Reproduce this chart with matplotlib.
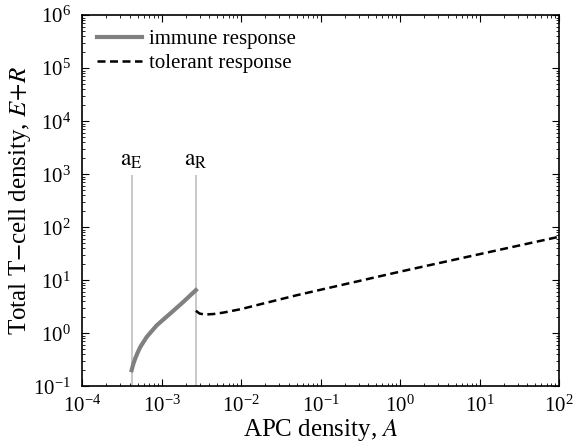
import matplotlib
matplotlib.use("Agg")
import matplotlib.pyplot as plt

plt.rcParams['font.family'] = ['Liberation Serif', 'DejaVu Serif']
plt.rcParams['mathtext.fontset'] = 'stix'

# thresholds
a_E = 4.2e-4
a_R = 2.7e-3

# immune response branch
immune_A = [4.2e-4, 4.4e-4, 4.65e-4, 5.0e-4, 5.4e-4, 6.5e-4, 8.7e-4, 1.28e-3, 1.88e-3, 2.7e-3]
immune_T = [0.20, 0.26, 0.33, 0.43, 0.55, 0.85, 1.41, 2.34, 3.9, 6.5]

# tolerant response branch
tol_A = [2.7e-3, 3.0e-3, 3.5e-3, 4.5e-3, 6e-3, 1e-2, 2e-2, 5e-2, 1e-1, 1e0, 1e1, 1e2]
tol_T = [2.65, 2.35, 2.25, 2.3, 2.45, 2.85, 3.7, 5.2, 6.6, 14.5, 31, 66]

fig = plt.figure(figsize=(5.74, 4.47), dpi=100)
ax = fig.add_axes([0.143, 0.136, 0.831, 0.830])

ax.plot([a_E, a_E], [0.1, 930], color='#c8c8c8', lw=1.4, zorder=1)
ax.plot([a_R, a_R], [0.1, 930], color='#c8c8c8', lw=1.4, zorder=1)
ax.text(a_E, 1150, r'$\mathrm{a_E}$', ha='center', va='bottom', fontsize=17)
ax.text(a_R, 1150, r'$\mathrm{a_R}$', ha='center', va='bottom', fontsize=17)

ax.plot(immune_A, immune_T, color='#808080', lw=3, label='immune response', zorder=3)
ax.plot(tol_A, tol_T, color='black', lw=1.8, ls=(0, (3.2, 1.8)), label='tolerant response', zorder=3)

ax.set_xscale('log')
ax.set_yscale('log')
ax.set_xlim(1e-4, 1e2)
ax.set_ylim(1e-1, 1e6)

ax.tick_params(which='both', direction='in', top=True, right=True, labelsize=15)
ax.tick_params(which='major', length=5)
ax.tick_params(which='minor', length=2.5)
ax.tick_params(axis='x', pad=7)
ax.tick_params(axis='y', pad=8)
for s in ax.spines.values():
    s.set_linewidth(1.2)

ax.set_xlabel(r'APC density, $A$', fontsize=18, labelpad=0)
ax.set_ylabel(r'Total T$-$cell density, $E\!+\!R$', fontsize=18, labelpad=0)

ax.legend(loc='upper left', frameon=False, fontsize=15, handlelength=2.2,
          handletextpad=0.3, borderaxespad=0.3, labelspacing=0.2)

fig.savefig('out.png', dpi=100)
